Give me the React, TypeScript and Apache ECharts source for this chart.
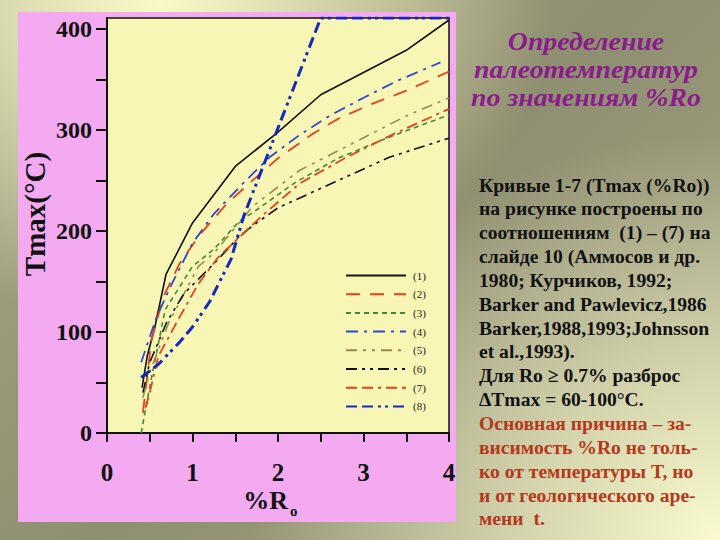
import React, { useEffect, useRef } from "react";
import * as echarts from "echarts";

const seriesNames = ["(1)", "(2)", "(3)", "(4)", "(5)", "(6)", "(7)", "(8)"];

const curve1 = [[0.41, 45], [0.47, 76], [0.56, 105], [0.69, 157], [1.0, 208], [1.5, 264], [2.0, 298], [2.5, 335], [3.0, 357], [3.5, 379], [4.0, 409]];
const curve2 = [[0.42, 20], [0.52, 92], [0.66, 135], [0.85, 168], [1.1, 198], [1.4, 227], [1.7, 250], [2.0, 272], [2.4, 296], [2.7, 311], [3.1, 326], [3.5, 339], [4.0, 358]];
const curve3 = [[0.4, 0], [0.5, 46], [0.68, 122], [1.0, 165], [1.25, 182], [1.55, 210], [1.7, 218], [2.2, 248], [2.7, 272], [3.3, 293], [4.0, 315]];
const curve4 = [[0.4, 70], [0.58, 115], [0.76, 148], [1.0, 188], [1.25, 217], [1.6, 248], [1.9, 273], [2.25, 295], [2.6, 314], [3.0, 332], [3.4, 349], [3.9, 367]];
const curve5 = [[0.42, 35], [0.5, 60], [0.72, 109], [1.07, 165], [1.25, 178], [1.7, 224], [2.25, 260], [2.9, 288], [3.5, 314], [4.0, 332]];
const curve6 = [[0.42, 40], [0.5, 70], [0.7, 110], [0.9, 138], [1.3, 172], [1.55, 195], [1.7, 205], [2.0, 223], [2.65, 248], [3.3, 273], [4.0, 292]];
const curve7 = [[0.45, 25], [0.5, 40], [0.6, 76], [0.85, 115], [1.07, 148], [1.3, 174], [1.8, 214], [2.25, 247], [2.8, 273], [3.35, 296], [4.0, 321]];
const curve8 = [[0.4, 55], [0.6, 68], [0.85, 90], [1.0, 105], [1.2, 130], [1.45, 172], [1.6, 215], [2.0, 302], [2.5, 411], [4.0, 411]];
const curves = [curve1, curve2, curve3, curve4, curve5, curve6, curve7, curve8];

const curveColors = ["#111111", "#e8401a", "#3a8a3a", "#3048cc", "#9a8a4a", "#111111", "#e8401a", "#1428c0"];
const curveDashes: any[] = [
  "solid",
  [14, 10],
  [5, 4],
  [12, 6, 3, 6],
  [11, 6, 3, 6, 3, 6],
  [11, 5, 3, 5, 3, 5],
  [11, 5, 11, 5, 3, 5],
  [11, 5, 11, 5, 3, 4, 3, 5],
];
const curveWidths = [1.6, 1.8, 1.6, 1.8, 1.6, 1.6, 1.8, 3];

const xTicks = [0, 1, 2, 3, 4];
const yTicks = [0, 100, 200, 300, 400];

const titleLines = ["Определение", "палеотемператур", "по значениям %Ro"];
const bodyLines = [
  "Кривые 1-7 (Tmax (%Ro))",
  "на рисунке построены по",
  "соотношениям  (1) – (7) на",
  "слайде 10 (Аммосов и др.",
  "1980; Курчиков, 1992;",
  "Barker and Pawlevicz,1986",
  "Barker,1988,1993;Johnsson",
  "et al.,1993).",
  "Для Ro ≥ 0.7% разброс",
  "ΔTmax = 60-100°C.",
];
const redLines = [
  "Основная причина – за-",
  "висимость %Ro не толь-",
  "ко от температуры T, но",
  "и от геологического аре-",
  "мени  t.",
];

const SERIF = "'Liberation Serif', 'DejaVu Serif', serif";

export default function App() {
  const ref = useRef<HTMLDivElement>(null);
  useEffect(() => {
    if (!ref.current) return;
    const chart = echarts.init(ref.current, null, { renderer: "svg" });
    const graphics: any[] = [];
    titleLines.forEach((t, i) => {
      graphics.push({
        type: "text",
        x: 586,
        y: 41 + i * 28,
        scaleX: 1.07,
        style: {
          text: t,
          fill: "#8b1c8b",
          font: `italic bold 26px ${SERIF}`,
          align: "center",
          verticalAlign: "middle",
        },
      });
    });
    const allBody = [...bodyLines, ...redLines];
    allBody.forEach((t, i) => {
      graphics.push({
        type: "text",
        x: 479,
        y: 185 + i * 23.85,
        style: {
          text: t,
          fill: i < bodyLines.length ? "#111111" : "#b5381c",
          font: `bold 19.6px ${SERIF}`,
          align: "left",
          verticalAlign: "middle",
        },
      });
    });
    graphics.push({
      type: "text",
      x: 35,
      y: 214,
      rotation: Math.PI / 2,
      style: {
        text: "Tmax(°C)",
        fill: "#111",
        font: `bold 29px ${SERIF}`,
        align: "center",
        verticalAlign: "middle",
      },
    });
    graphics.push({
      type: "text",
      x: 288,
      y: 500,
      style: {
        text: "%R",
        fill: "#111",
        font: `bold 26px ${SERIF}`,
        align: "right",
        verticalAlign: "middle",
      },
    });
    graphics.push({
      type: "text",
      x: 290,
      y: 511,
      style: {
        text: "o",
        fill: "#111",
        font: `bold 15px ${SERIF}`,
        align: "left",
        verticalAlign: "middle",
      },
    });

    chart.setOption({
      animation: false,
      backgroundColor: "transparent",
      grid: {
        left: 107,
        right: 271,
        top: 18,
        bottom: 107,
        show: true,
        backgroundColor: "#f8f6b4",
        borderColor: "#111",
        borderWidth: 1.5,
      },
      legend: {
        orient: "vertical",
        left: 340,
        top: 265,
        itemWidth: 60,
        itemHeight: 10,
        itemGap: 7.7,
        data: seriesNames,
        itemStyle: { opacity: 0 },
        textStyle: { fontFamily: SERIF, fontSize: 11, color: "#222", padding: [0, 0, 0, 2] },
      },
      xAxis: {
        type: "value",
        min: 0,
        max: 4,
        interval: 0.5,
        splitLine: { show: false },
        axisLine: { lineStyle: { color: "#111", width: 2 } },
        axisTick: { inside: false, length: 9, lineStyle: { color: "#111", width: 2 } },
        axisLabel: {
          margin: 27,
          color: "#111",
          fontFamily: SERIF,
          fontWeight: "bold",
          fontSize: 25,
          formatter: (v: number) => (xTicks.includes(v) ? String(v) : ""),
        },
      },
      yAxis: {
        type: "value",
        min: 0,
        max: 411,
        interval: 50,
        splitLine: { show: false },
        axisLine: { lineStyle: { color: "#111", width: 2 } },
        axisTick: { inside: false, length: 11, lineStyle: { color: "#111", width: 2 } },
        axisLabel: {
          margin: 15,
          color: "#111",
          fontFamily: SERIF,
          fontWeight: "bold",
          fontSize: 24,
          showMaxLabel: false,
          formatter: (v: number) => (yTicks.includes(v) ? String(v) : ""),
        },
      },
      series: curves.map((c, i) => ({
        name: seriesNames[i],
        type: "line",
        data: c,
        symbol: "none",
        clip: true,
        lineStyle: { color: curveColors[i], width: curveWidths[i], type: curveDashes[i] },
        itemStyle: { color: curveColors[i] },
      })),
      graphic: graphics,
    });
    return () => chart.dispose();
  }, []);

  return (
    <div
      style={{
        position: "absolute",
        left: 0,
        top: 0,
        width: 720,
        height: 540,
        overflow: "hidden",
        background:
          "radial-gradient(ellipse 55% 60% at 22% 0%, rgba(250,250,200,1), rgba(250,250,200,0)), radial-gradient(ellipse 65% 75% at 100% 100%, rgba(250,250,206,1), rgba(250,250,206,0)), linear-gradient(135deg, #a8a888 0%, #8e8e70 50%, #a8a888 100%)",
      }}
    >
      <div style={{ position: "absolute", left: 18, top: 12, width: 438, height: 510, background: "#f4aaf0" }} />
      <div ref={ref} style={{ position: "absolute", left: 0, top: 0, width: 720, height: 540 }} />
    </div>
  );
}
